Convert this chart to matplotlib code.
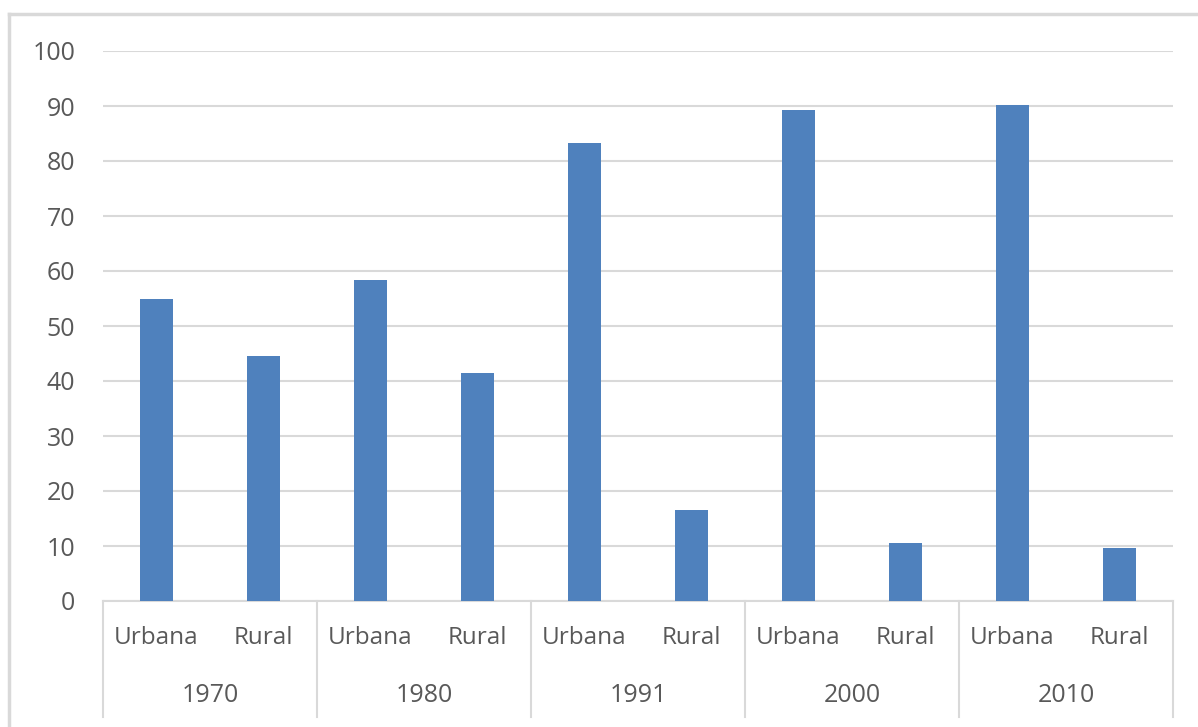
import numpy as np
import matplotlib.pyplot as plt
from matplotlib.transforms import blended_transform_factory
from matplotlib.lines import Line2D

years = ['1970', '1980', '1991', '2000', '2010']
areas = ['Urbana', 'Rural']
urbana = [55.0, 58.3, 83.2, 89.2, 90.1]
rural = [44.6, 41.5, 16.5, 10.6, 9.7]

plt.rcParams['font.family'] = ['Open Sans', 'DejaVu Sans']
text_color = '#595959'
grid_color = '#d9d9d9'
bar_color = '#4f81bd'

values = []
labels = []
for u, r in zip(urbana, rural):
    values += [u, r]
    labels += areas
x = np.arange(len(values))

fig = plt.figure(figsize=(11.98, 7.27), dpi=100)
W, H = 1198, 727
ax = fig.add_axes([103 / W, 1 - 601 / H, (1173 - 103) / W, (601 - 51) / H])

ax.bar(x, values, width=0.31, color=bar_color, zorder=3)
ax.set_xlim(-0.5, len(values) - 0.5)
ax.set_ylim(0, 100)
ax.set_yticks(np.arange(0, 101, 10))
ax.yaxis.grid(True, color=grid_color, linewidth=1.5, zorder=0)
ax.tick_params(axis='y', length=0, pad=20, labelsize=18, labelcolor=text_color)
for s in ['top', 'right', 'left']:
    ax.spines[s].set_visible(False)
ax.spines['bottom'].set_color(grid_color)
ax.spines['bottom'].set_linewidth(1.5)

# multi-level category axis
ax.set_xticks(x)
ax.set_xticklabels(labels)
ax.tick_params(axis='x', length=0, pad=0, labelsize=17.5, labelcolor=text_color)
for lab in ax.get_xticklabels():
    lab.set_y(-(638 - 601) / (601 - 51))
    lab.set_va('center')
trans = blended_transform_factory(ax.transData, ax.transAxes)
depth = -(717 - 601) / (601 - 51)
for b in np.arange(-0.5, len(values), 2):
    ax.add_line(Line2D([b, b], [0, depth], transform=trans, color=grid_color,
                       linewidth=1.5, clip_on=False))
for i, yr in enumerate(years):
    ax.text(2 * i + 0.5, -(695 - 601) / (601 - 51), yr, transform=trans,
            ha='center', va='center', fontsize=18, color=text_color)

# chart frame (cropped on right and bottom)
fig.add_artist(Line2D([9 / W, 9 / W], [0, 1 - 14 / H], color=grid_color, linewidth=2.5))
fig.add_artist(Line2D([9 / W, 1], [1 - 14 / H, 1 - 14 / H], color=grid_color, linewidth=2.5))

fig.savefig('out.png', dpi=100)
